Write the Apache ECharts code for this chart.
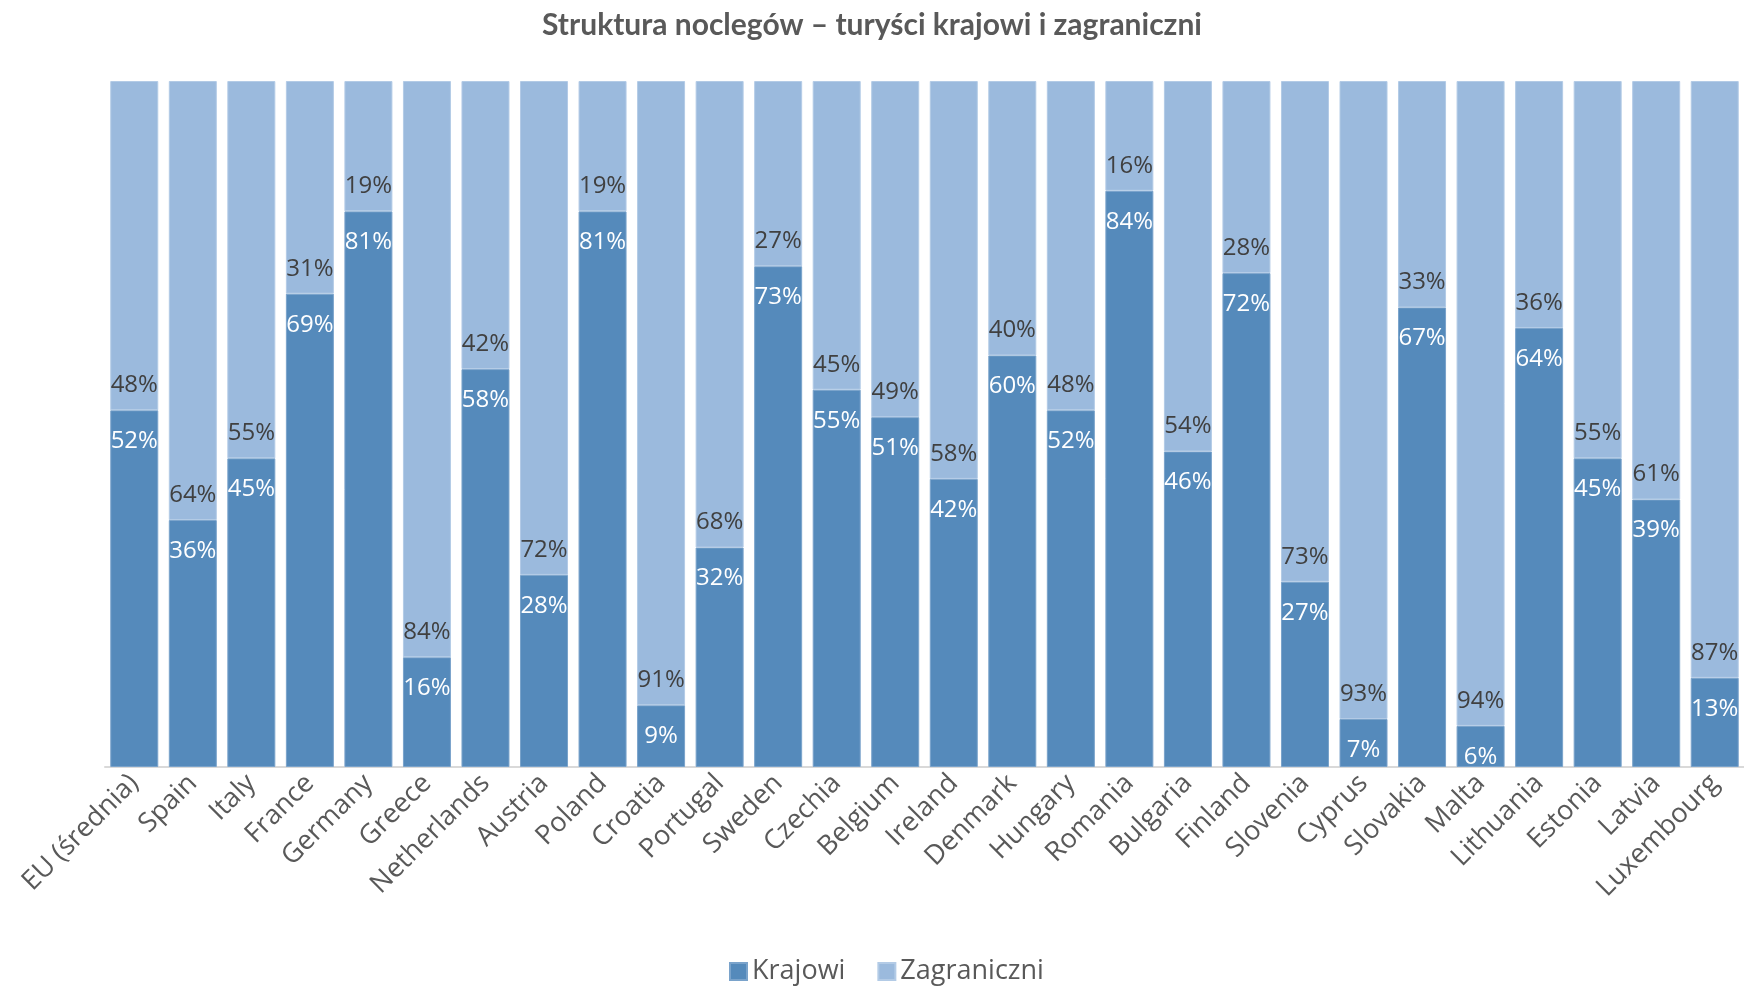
<!DOCTYPE html>
<html>
<head>
<meta charset="utf-8">
<script src="https://cdn.jsdelivr.net/npm/echarts@6/dist/echarts.min.js"></script>
<style>
  html, body { margin: 0; padding: 0; background: #fff; }
  #chart { width: 1744px; height: 990px; }
</style>
</head>
<body>
<div id="chart"></div>
<script>
// kraje
var countries = ['EU (średnia)', 'Spain', 'Italy', 'France', 'Germany', 'Greece', 'Netherlands', 'Austria',
  'Poland', 'Croatia', 'Portugal', 'Sweden', 'Czechia', 'Belgium', 'Ireland', 'Denmark', 'Hungary',
  'Romania', 'Bulgaria', 'Finland', 'Slovenia', 'Cyprus', 'Slovakia', 'Malta', 'Lithuania', 'Estonia',
  'Latvia', 'Luxembourg'];
// turyści krajowi (%)
var krajowi = [52, 36, 45, 69, 81, 16, 58, 28, 81, 9, 32, 73, 55, 51, 42, 60, 52, 84, 46, 72, 27, 7, 67, 6, 64, 45, 39, 13];
// turyści zagraniczni (%)
var zagraniczni = [48, 64, 55, 31, 19, 84, 42, 72, 19, 91, 68, 27, 45, 49, 58, 40, 48, 16, 54, 28, 73, 93, 33, 94, 36, 55, 61, 87];

var chart = echarts.init(document.getElementById('chart'));
var font = '"Open Sans", sans-serif';

chart.setOption({
  animation: false,
  title: {
    text: 'Struktura noclegów – turyści krajowi i zagraniczni',
    left: 'center',
    top: 5,
    textStyle: { fontFamily: 'Lato, sans-serif', fontWeight: 'bold', fontSize: 30, color: '#595959' }
  },
  legend: {
    bottom: 0,
    left: 724,
    itemWidth: 17,
    itemHeight: 17,
    itemGap: 32,
    icon: 'rect',
    textStyle: { fontFamily: font, fontSize: 27, color: '#595959' },
    data: ['Krajowi', 'Zagraniczni']
  },
  grid: { left: 105, right: 0, top: 81, bottom: 223 },
  xAxis: {
    type: 'category',
    data: countries,
    axisTick: { show: false },
    axisLine: { lineStyle: { color: '#d9d9d9', width: 2 } },
    axisLabel: {
      rotate: 45,
      interval: 0,
      margin: 12,
      fontFamily: font,
      fontSize: 27,
      color: '#595959'
    }
  },
  yAxis: {
    type: 'value',
    min: 0,
    max: 100,
    show: false
  },
  series: [
    {
      name: 'Krajowi',
      type: 'bar',
      stack: 'total',
      barCategoryGap: '18%',
      itemStyle: { color: '#558abb', borderColor: '#7aa3cb', borderWidth: 1 },
      label: {
        show: true,
        position: 'insideTop',
        distance: 19,
        formatter: '{c}%',
        fontFamily: font,
        fontSize: 24,
        color: '#ffffff'
      },
      data: krajowi
    },
    {
      name: 'Zagraniczni',
      type: 'bar',
      stack: 'total',
      itemStyle: { color: '#9bbadd', borderColor: '#b3cbe6', borderWidth: 1 },
      label: {
        show: true,
        position: 'insideBottom',
        distance: 13,
        formatter: '{c}%',
        fontFamily: font,
        fontSize: 24,
        color: '#404040'
      },
      data: zagraniczni
    }
  ]
});
</script>
</body>
</html>
